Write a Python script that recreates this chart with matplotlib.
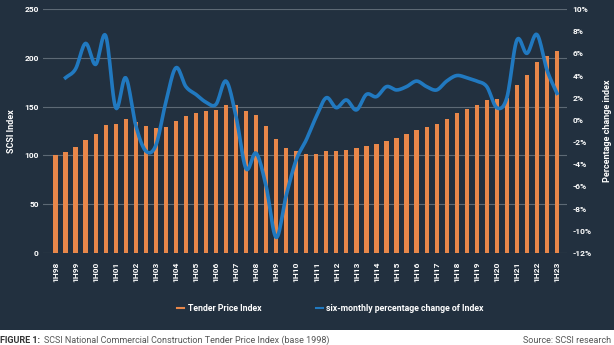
import numpy as np
import matplotlib
matplotlib.use("Agg")
from matplotlib import pyplot as plt
from matplotlib.patches import Rectangle

# half-year periods 1H98 .. 1H23
periods = []
for y in range(1998, 2024):
    periods.append("1H%02d" % (y % 100))
    if y < 2023:
        periods.append("2H%02d" % (y % 100))

tender_index = [100, 103, 109, 116, 122, 131, 132, 137, 134, 130,
                128, 129, 135, 140, 143, 145, 147, 152, 152, 145,
                141, 130, 117, 108, 104, 101, 101, 104, 104, 106,
                108, 110, 112, 115, 118, 122, 126, 129, 132, 137,
                143, 148, 152, 157, 158, 159, 172, 182, 196, 202,
                207]

# six-monthly % change, starts at 2H98
pct_change = [3.8, 4.6, 6.9, 5.0, 7.6, 1.1, 3.8, -0.5, -2.8, -2.3,
              1.6, 4.7, 3.0, 2.3, 1.6, 1.4, 3.5, 0.3, -4.4, -3.0,
              -6.0, -10.6, -6.8, -3.6, -1.8, 0.3, 2.0, 1.1, 1.8, 0.9,
              2.3, 2.1, 3.0, 2.7, 3.0, 3.5, 3.0, 2.7, 3.5, 4.0,
              3.8, 3.5, 3.0, 1.1, 2.0, 7.2, 6.0, 7.7, 4.5, 2.4]

bg = "#22303f"
orange = "#e8874a"
blue = "#2179c0"
grid_c = "#5d6975"


def smooth(x, y, n=12):
    # catmull-rom curve through the points, just for drawing
    x = np.asarray(x, float)
    y = np.asarray(y, float)
    px = np.concatenate([[2 * x[0] - x[1]], x, [2 * x[-1] - x[-2]]])
    py = np.concatenate([[2 * y[0] - y[1]], y, [2 * y[-1] - y[-2]]])
    t = np.linspace(0, 1, n, endpoint=False)
    xs, ys = [], []
    for i in range(1, len(px) - 2):
        for arr, out in ((px, xs), (py, ys)):
            p0, p1, p2, p3 = arr[i - 1], arr[i], arr[i + 1], arr[i + 2]
            out.extend(0.5 * (2 * p1 + (-p0 + p2) * t
                              + (2 * p0 - 5 * p1 + 4 * p2 - p3) * t ** 2
                              + (-p0 + 3 * p1 - 3 * p2 + p3) * t ** 3))
    xs.append(x[-1])
    ys.append(y[-1])
    return np.array(xs), np.array(ys)


plt.rcParams['font.family'] = ['Roboto', 'DejaVu Sans']

fig = plt.figure(figsize=(6.14, 3.45), dpi=100)
fig.patch.set_facecolor(bg)
# white strip at the bottom for the caption
fig.patches.append(Rectangle((0, 0), 1, 15.5 / 345, transform=fig.transFigure,
                             facecolor="white", edgecolor="none", zorder=-10))

ax = fig.add_axes([0.070, 0.2667, 0.8535, 0.7072])
ax.set_facecolor(bg)
x = np.arange(len(periods))
ax.bar(x, tender_index, width=0.42, color=orange, zorder=2)
ax.set_ylim(0, 250)
ax.set_yticks(range(0, 251, 50))
ax.set_xlim(-1.25, 51.0)
ax.grid(axis="y", color=grid_c, linewidth=0.8, zorder=0)
ax.set_axisbelow(True)
for s in ax.spines.values():
    s.set_visible(False)
ax.set_xticks(x[::2])
ax.set_xticklabels(periods[::2], rotation=90, fontsize=6,
                   fontweight="bold", color="white")
ax.tick_params(axis="x", length=0, pad=6)
ax.tick_params(axis="y", length=0, labelsize=6, labelcolor="white", pad=3)
for lab in ax.get_yticklabels():
    lab.set_fontweight("bold")
ax.set_ylabel("SCSI Index", color="white", fontsize=6.5, fontweight="bold",
              labelpad=6)

ax2 = ax.twinx()
sx, sy = smooth(x[1:], pct_change)
ax2.plot(sx, sy, color=blue, linewidth=2.6, zorder=3)
ax2.set_ylim(-12, 10)
ax2.set_yticks(range(-12, 11, 2))
ax2.set_yticklabels(["%d%%" % v for v in range(-12, 11, 2)])
for s in ax2.spines.values():
    s.set_visible(False)
ax2.tick_params(axis="y", length=0, labelsize=6, labelcolor="white", pad=4)
for lab in ax2.get_yticklabels():
    lab.set_fontweight("bold")
ax2.set_ylabel("Percentage change index", color="white", fontsize=6.5,
               fontweight="bold", labelpad=8)

leg = fig.legend([plt.Line2D([], [], color=orange, lw=1.5),
                  plt.Line2D([], [], color=blue, lw=1.5)],
                 ["Tender Price Index", "six-monthly percentage change of Index"],
                 loc="center", bbox_to_anchor=(0.538, 0.107), ncol=2,
                 frameon=False, fontsize=6.3, handlelength=0.8,
                 handletextpad=0.4, columnspacing=6.2)
for t in leg.get_texts():
    t.set_color("white")
    t.set_fontweight("bold")

fig.text(0.0, 0.027, "FIGURE 1:", fontsize=6.5, fontweight="bold",
         color="#333333", va="top", ha="left")
fig.text(0.072, 0.027, "SCSI National Commercial Construction Tender Price Index (base 1998)",
         fontsize=6.5, color="#555555", va="top", ha="left")
fig.text(0.995, 0.027, "Source: SCSI research", fontsize=6.5, color="#555555",
         va="top", ha="right")

fig.savefig("out.png", dpi=100, facecolor=fig.get_facecolor())
